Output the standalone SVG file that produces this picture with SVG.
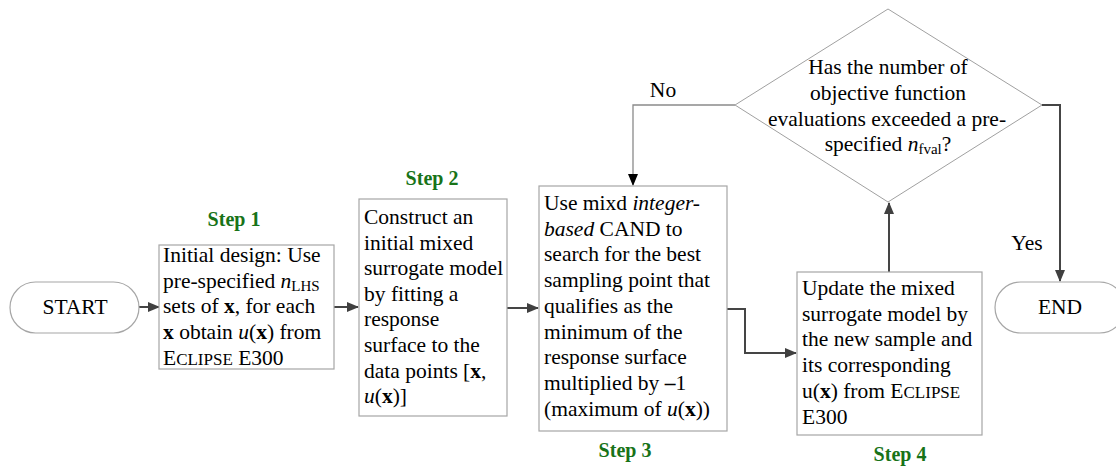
<svg xmlns="http://www.w3.org/2000/svg" width="1116" height="466" viewBox="0 0 1116 466">
  <defs>
    <marker id="arrow" markerUnits="userSpaceOnUse" markerWidth="12" markerHeight="10" refX="11" refY="5" orient="auto">
      <path d="M0,0 L12,5 L0,10 z" fill="#404040"/>
    </marker>
    <marker id="arrow-black" markerUnits="userSpaceOnUse" markerWidth="12" markerHeight="10" refX="11" refY="5" orient="auto">
      <path d="M0,0 L12,5 L0,10 z" fill="#000"/>
    </marker>
    <style>
      text { font-family: "Liberation Serif", "Times New Roman", serif; font-size: 21.5px; fill: #000; }
      .box { fill: #fff; stroke: #a6a6a6; stroke-width: 1.2; }
      .term { fill: #fff; stroke: #a6a6a6; stroke-width: 1.2; }
      .diamond { fill: #fff; stroke: #a0a0a0; stroke-width: 1; }
      .step { font-weight: bold; fill: #187318; font-size: 20px; text-anchor: middle; }
      .mid { text-anchor: middle; }
      .conn { fill: none; stroke: #454545; stroke-width: 2; marker-end: url(#arrow); }
      .conn-thin { fill: none; stroke: #8a8a8a; stroke-width: 1.3; marker-end: url(#arrow-black); }
      .sc { font-size: 17px; }
      .sub { font-size: 15px; }
      .b { font-weight: bold; }
      .i { font-style: italic; }
    </style>
  </defs>

  <rect width="1116" height="466" fill="#fff"/>

  <!-- connectors -->
  <g id="connectors">
    <path class="conn" d="M139,307 H159"/>
    <path class="conn" d="M334,307 H358"/>
    <path class="conn" d="M507,308 H538"/>
    <path class="conn" d="M727,309 H745 V353 H796"/>
    <path class="conn" d="M889,272 V203"/>
    <path class="conn" d="M1042,105 H1060 V281"/>
    <path class="conn-thin" d="M735,105 H633 V185"/>
    <text x="663" y="97" class="mid">No</text>
    <text x="1027" y="250" class="mid">Yes</text>
  </g>

  <!-- start terminator -->
  <g id="start">
    <rect class="term" x="10" y="282" width="129" height="51" rx="25.5" ry="25.5"/>
    <text x="75" y="314" class="mid">START</text>
  </g>

  <!-- step 1: initial design -->
  <g id="step1">
    <text x="234" y="226" class="step">Step 1</text>
    <rect class="box" x="159" y="245" width="175" height="124"/>
    <text x="163" y="262">Initial design: Use</text>
    <text x="163" y="288">pre-specified <tspan class="i">n</tspan><tspan class="sub" dy="3">LHS</tspan></text>
    <text x="163" y="313">sets of <tspan class="b">x</tspan>, for each</text>
    <text x="163" y="339"><tspan class="b">x</tspan> obtain <tspan class="i">u</tspan>(<tspan class="b">x</tspan>) from</text>
    <text x="163" y="365">E<tspan class="sc">CLIPSE</tspan> E300</text>
  </g>

  <!-- step 2: initial surrogate -->
  <g id="step2">
    <text x="432" y="185" class="step">Step 2</text>
    <rect class="box" x="359" y="199" width="148" height="217"/>
    <text x="364" y="224">Construct an</text>
    <text x="364" y="249.6">initial mixed</text>
    <text x="364" y="275.2">surrogate model</text>
    <text x="364" y="300.8">by fitting a</text>
    <text x="364" y="326.4">response</text>
    <text x="364" y="352">surface to the</text>
    <text x="364" y="377.6">data points [<tspan class="b">x</tspan>,</text>
    <text x="364" y="403.2"><tspan class="i">u</tspan>(<tspan class="b">x</tspan>)]</text>
  </g>

  <!-- step 3: CAND search -->
  <g id="step3">
    <rect class="box" x="539" y="186" width="188" height="245"/>
    <text x="544" y="210">Use mixd <tspan class="i">integer-</tspan></text>
    <text x="544" y="235.7"><tspan class="i">based</tspan> CAND to</text>
    <text x="544" y="261.4">search for the best</text>
    <text x="544" y="287.1">sampling point that</text>
    <text x="544" y="312.8">qualifies as the</text>
    <text x="544" y="338.5">minimum of the</text>
    <text x="544" y="364.2">response surface</text>
    <text x="544" y="389.9">multiplied by <tspan class="b">–</tspan>1</text>
    <text x="544" y="415.6">(maximum of <tspan class="i">u</tspan>(<tspan class="b">x</tspan>))</text>
    <text x="625" y="457" class="step">Step 3</text>
  </g>

  <!-- step 4: update model -->
  <g id="step4">
    <rect class="box" x="797" y="272" width="185" height="163"/>
    <text x="802" y="295">Update the mixed</text>
    <text x="802" y="320.7">surrogate model by</text>
    <text x="802" y="346.4">the new sample and</text>
    <text x="802" y="372.1">its corresponding</text>
    <text x="802" y="397.8">u(<tspan class="b">x</tspan>) from E<tspan class="sc">CLIPSE</tspan></text>
    <text x="802" y="423.5">E300</text>
    <text x="900" y="461" class="step">Step 4</text>
  </g>

  <!-- stopping criterion -->
  <g id="decision">
    <polygon class="diamond" points="888,9 1042,105 888,202 735,105"/>
    <text x="888" y="74" class="mid">Has the number of</text>
    <text x="888" y="100" class="mid">objective function</text>
    <text x="887" y="125.5" class="mid">evaluations exceeded a pre-</text>
    <text x="888" y="151" class="mid">specified <tspan class="i">n</tspan><tspan class="sub" dy="3">fval</tspan><tspan dy="-3">?</tspan></text>
  </g>

  <!-- end terminator -->
  <g id="end">
    <rect class="term" x="995" y="282" width="130" height="51" rx="25.5" ry="25.5"/>
    <text x="1060" y="314" class="mid">END</text>
  </g>
</svg>
